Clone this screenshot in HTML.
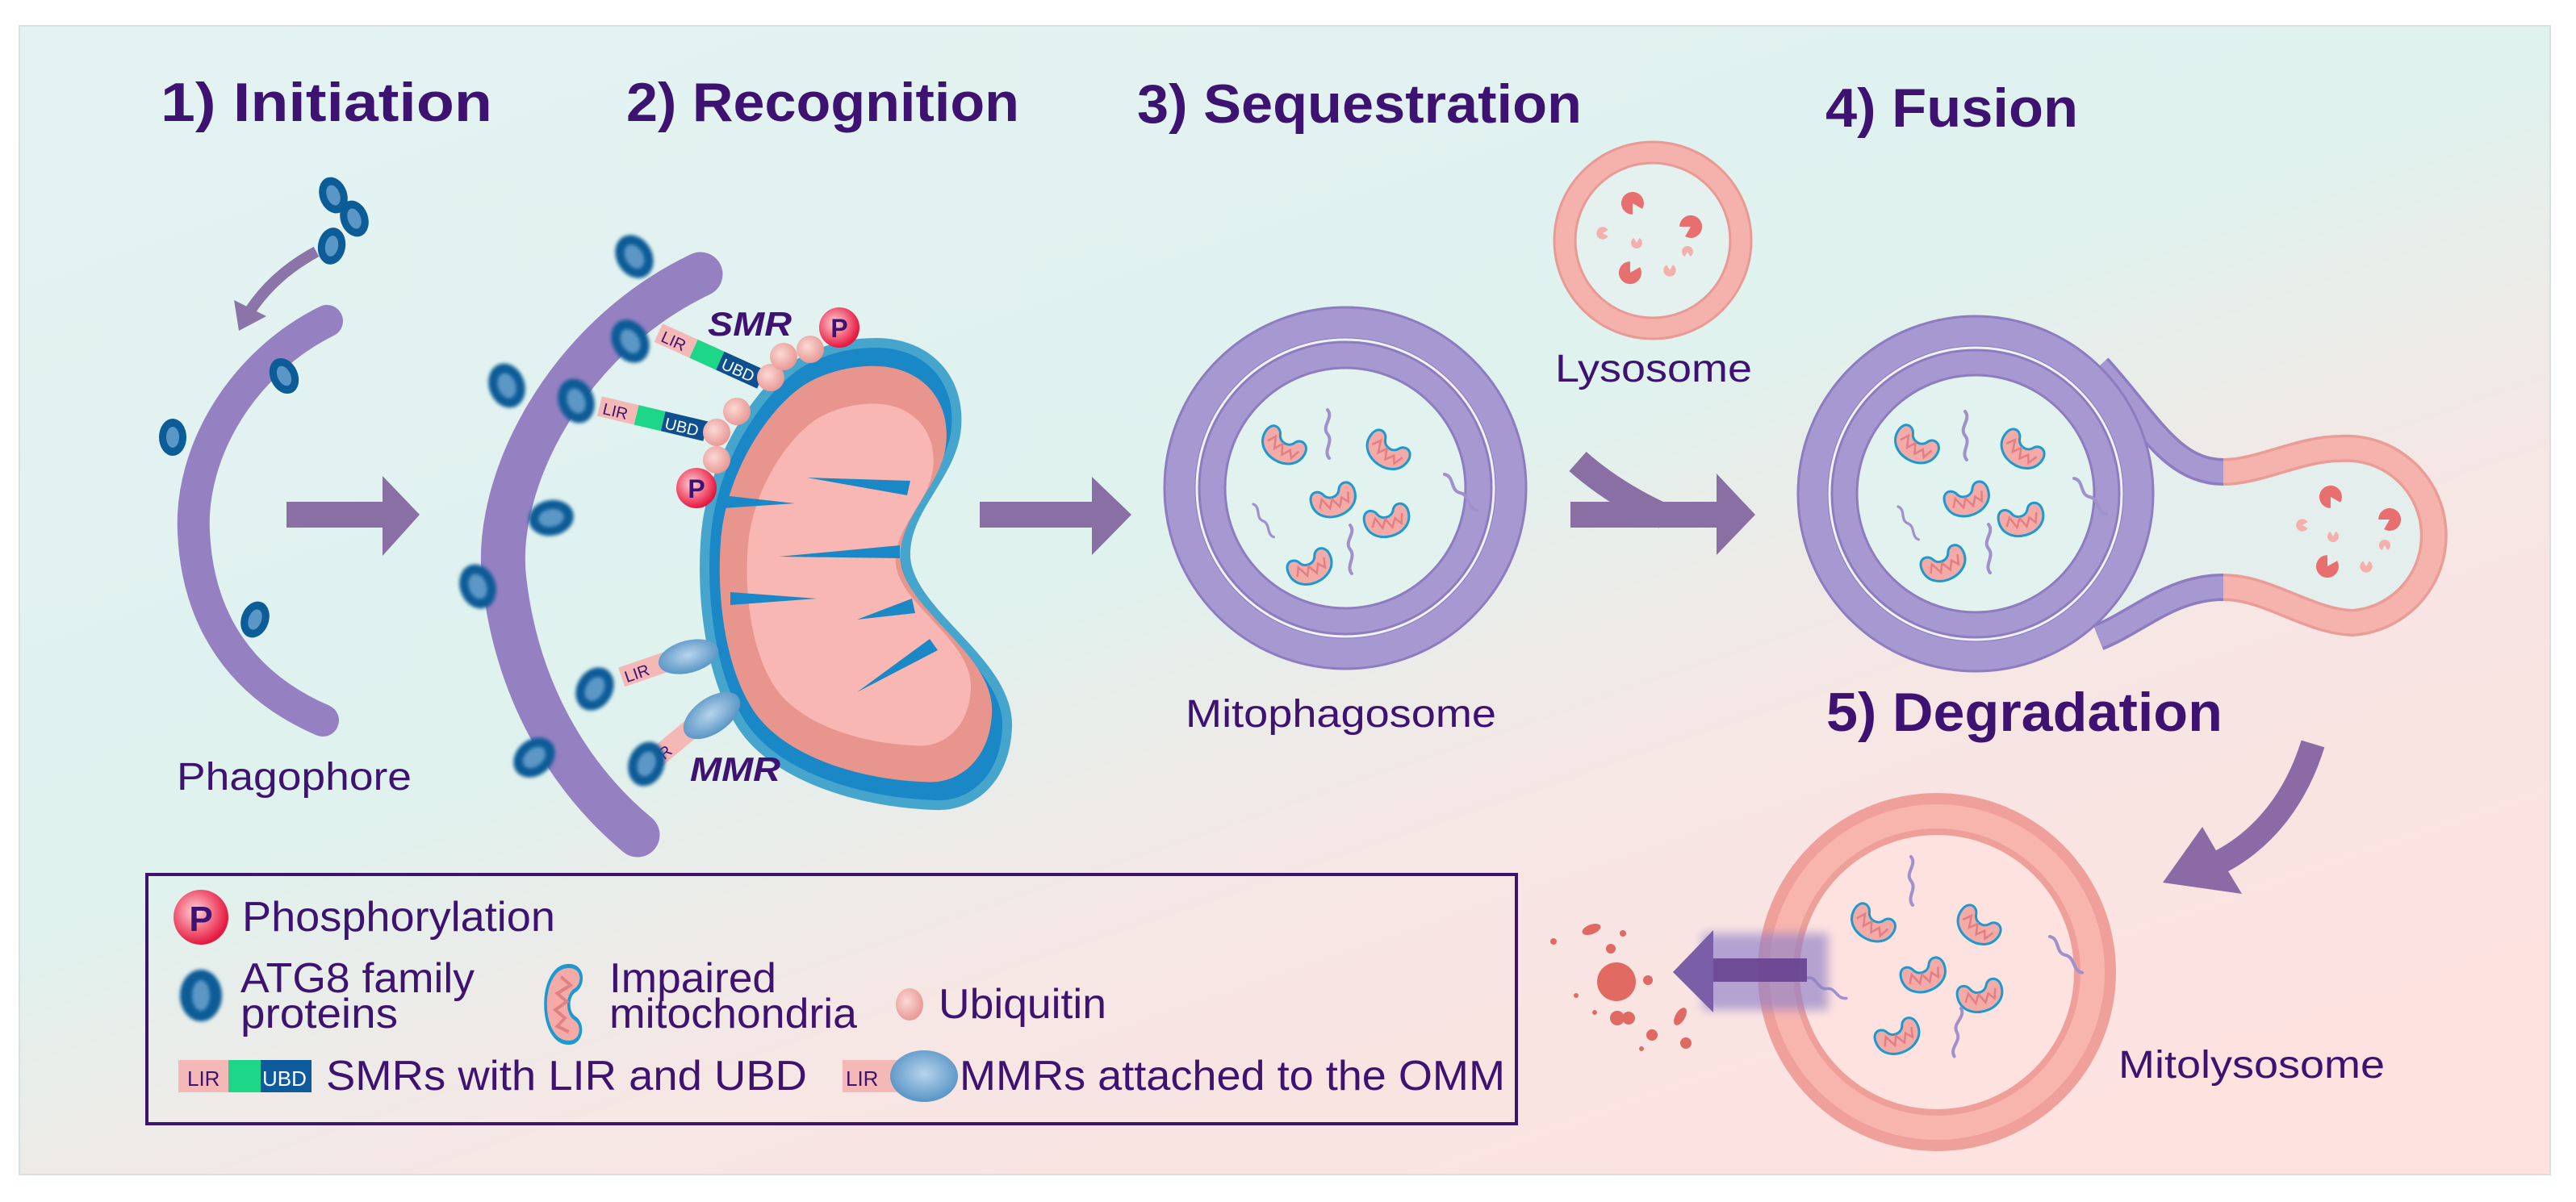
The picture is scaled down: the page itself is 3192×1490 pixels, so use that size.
<!DOCTYPE html>
<html><head><meta charset="utf-8"><style>
html,body{margin:0;padding:0;background:#fff;}
svg{display:block;}
text{font-family:"Liberation Sans",Arial,sans-serif;fill:#3d1270;}
</style></head><body>
<svg width="3192" height="1490" viewBox="0 0 3192 1490" xmlns="http://www.w3.org/2000/svg">
<defs>
<linearGradient id="bg" x1="0" y1="0" x2="0.75" y2="1">
<stop offset="0" stop-color="#e4f3f2"/>
<stop offset="0.5" stop-color="#dff2ee"/>
<stop offset="0.72" stop-color="#f6e6e4"/>
<stop offset="1" stop-color="#fde2e0"/>
</linearGradient>
<radialGradient id="pg" cx="0.4" cy="0.4" r="0.6">
<stop offset="0" stop-color="#fbd6dc"/><stop offset="0.6" stop-color="#f2607a"/><stop offset="1" stop-color="#e5183f"/>
</radialGradient>
<radialGradient id="ug" cx="0.4" cy="0.4" r="0.6">
<stop offset="0" stop-color="#fbd9d5"/><stop offset="1" stop-color="#e99a96"/>
</radialGradient>
<radialGradient id="eg" cx="0.5" cy="0.45" r="0.6">
<stop offset="0" stop-color="#b8d4ec"/><stop offset="1" stop-color="#4f8fc2"/>
</radialGradient>
<filter id="bl" x="-20%" y="-20%" width="140%" height="140%"><feGaussianBlur stdDeviation="2"/></filter>
<filter id="bl2" x="-20%" y="-50%" width="140%" height="200%"><feGaussianBlur stdDeviation="6"/></filter>
<g id="atg"><ellipse rx="22" ry="28" fill="#0b5c97" filter="url(#bl)"/><ellipse rx="11" ry="16" fill="#5b97c6" filter="url(#bl)"/></g>
<g id="atgs"><ellipse rx="17" ry="23" fill="#0b5c97"/><ellipse rx="8" ry="13" fill="#5b97c6"/></g>
<g id="mm">
<path d="M-28,-4 C-28,-20 -14,-20 -10,-10 C-6,-2 6,-2 10,-10 C14,-20 28,-18 28,-4 C28,12 14,20 0,20 C-14,20 -28,12 -28,-4 Z" fill="#f4aaa6" stroke="#1a9ad0" stroke-width="3"/>
<path d="M-20,4 L-14,-6 L-8,8 L-2,-2 L4,10 L10,0 L16,8 L20,-4" fill="none" stroke="#e07f84" stroke-width="2.5"/>
</g>
<path id="pac" d="M0,0 L12,-7 A14,14 0 1,0 12,7 Z"/>
<path id="sq" d="M0,0 C8,10 -8,20 0,30 C8,40 -6,50 2,60" fill="none" stroke="#a090cc" stroke-width="4" stroke-linecap="round"/>
</defs>

<rect x="24" y="32" width="3136" height="1424" fill="url(#bg)"/>
<rect x="24" y="32" width="3136" height="1424" fill="none" stroke="#d6e2e2" stroke-width="2"/>

<g font-weight="bold" font-size="68">
<text x="199" y="150" textLength="411" lengthAdjust="spacingAndGlyphs">1) Initiation</text>
<text x="776" y="150" textLength="487" lengthAdjust="spacingAndGlyphs">2) Recognition</text>
<text x="1409" y="152" textLength="551" lengthAdjust="spacingAndGlyphs">3) Sequestration</text>
<text x="2262" y="157" textLength="313" lengthAdjust="spacingAndGlyphs">4) Fusion</text>
<text x="2263" y="906" textLength="491" lengthAdjust="spacingAndGlyphs">5) Degradation</text>
</g>

<path d="M405,398 C300,450 235,560 240,660 C245,770 300,850 400,893" fill="none" stroke="#9580c2" stroke-width="40" stroke-linecap="round"/>
<path d="M392,312 Q340,340 310,385" fill="none" stroke="#8a74a8" stroke-width="14"/>
<polygon points="290,372 330,392 296,410" fill="#8a74a8"/>
<use href="#atgs" transform="translate(413,242) rotate(-20)"/>
<use href="#atgs" transform="translate(439,271) rotate(-20)"/>
<use href="#atgs" transform="translate(411,305) rotate(10)"/>
<use href="#atgs" transform="translate(352,466) rotate(-25)"/>
<use href="#atgs" transform="translate(214,542) rotate(0)"/>
<use href="#atgs" transform="translate(316,768) rotate(20)"/>
<text x="219" y="979" font-size="48" textLength="291" lengthAdjust="spacingAndGlyphs">Phagophore</text>

<rect x="355" y="622" width="120" height="32" fill="#8a6fa5"/>
<polygon points="474,590 520,638 474,689" fill="#8a6fa5"/>

<path d="M868,340 C700,420 610,600 625,720 C640,850 700,960 790,1035" fill="none" stroke="#9580c2" stroke-width="55" stroke-linecap="round"/>

<g>
<path d="M1085,425 C1150,425 1190,470 1185,530 C1180,590 1120,630 1122,690 C1125,760 1250,820 1248,900 C1246,970 1200,1000 1160,998 C1060,995 960,960 920,900 C880,840 868,740 875,660 C885,560 950,470 1000,445 C1030,430 1060,425 1085,425 Z" fill="#1a88c6" stroke="#45a5cc" stroke-width="12"/>
<path d="M1085,425 C1150,425 1190,470 1185,530 C1180,590 1120,630 1122,690 C1125,760 1250,820 1248,900 C1246,970 1200,1000 1160,998 C1060,995 960,960 920,900 C880,840 868,740 875,660 C885,560 950,470 1000,445 C1030,430 1060,425 1085,425 Z" fill="#e8958e" transform="translate(1060,712) scale(0.9) translate(-1060,-712)"/>
<path d="M1085,425 C1150,425 1190,470 1185,530 C1180,590 1120,630 1122,690 C1125,760 1250,820 1248,900 C1246,970 1200,1000 1160,998 C1060,995 960,960 920,900 C880,840 868,740 875,660 C885,560 950,470 1000,445 C1030,430 1060,425 1085,425 Z" fill="#f8b7b2" transform="translate(1075,715) scale(0.74) translate(-1075,-715)"/>
<g fill="#1a88c6">
<polygon points="1128,596 1124,614 1000,592"/>
<polygon points="895,614 895,630 985,624"/>
<polygon points="1115,676 1115,692 965,690"/>
<polygon points="905,734 905,750 1012,742"/>
<polygon points="1130,742 1134,760 1062,768"/>
<polygon points="1152,792 1162,806 1062,858"/>
</g>
</g>

<g transform="translate(816,412) rotate(24.4)">
<rect x="0" y="-12" width="48" height="25" fill="#f4b9b6"/><rect x="48" y="-12" width="36" height="25" fill="#1ed688"/><rect x="84" y="-12" width="56" height="25" fill="#0d4f8f"/>
<text x="6" y="9" font-size="20" style="fill:#3d1270">LIR</text><text x="88" y="9" font-size="20" style="fill:#fff">UBD</text>
</g>
<g transform="translate(743,503) rotate(13.3)">
<rect x="0" y="-12" width="47" height="25" fill="#f4b9b6"/><rect x="47" y="-12" width="34" height="25" fill="#1ed688"/><rect x="81" y="-12" width="54" height="25" fill="#0d4f8f"/>
<text x="5" y="9" font-size="20" style="fill:#3d1270">LIR</text><text x="84" y="9" font-size="20" style="fill:#fff">UBD</text>
</g>
<g fill="url(#ug)">
<circle cx="955" cy="468" r="17"/><circle cx="971" cy="442" r="17"/><circle cx="1004" cy="433" r="17"/>
<circle cx="913" cy="510" r="17"/><circle cx="888" cy="536" r="17"/><circle cx="888" cy="570" r="17"/>
</g>
<circle cx="1040" cy="406" r="25" fill="url(#pg)"/><text x="1040" y="418" font-size="32" font-weight="bold" text-anchor="middle">P</text>
<circle cx="863" cy="605" r="25" fill="url(#pg)"/><text x="863" y="617" font-size="32" font-weight="bold" text-anchor="middle">P</text>
<text x="877" y="416" font-size="42" font-weight="bold" font-style="italic" textLength="104" lengthAdjust="spacingAndGlyphs">SMR</text>

<g transform="translate(770,839) rotate(-19)"><rect x="0" y="-12" width="75" height="25" fill="#f4b9b6"/><text x="4" y="9" font-size="20">LIR</text></g>
<ellipse cx="853" cy="814" rx="38" ry="20" transform="rotate(-15 853 814)" fill="url(#eg)"/>
<g transform="translate(800,950) rotate(-40)"><rect x="0" y="-12" width="80" height="25" fill="#f4b9b6"/><text x="6" y="9" font-size="20">LIR</text></g>
<ellipse cx="882" cy="887" rx="40" ry="22" transform="rotate(-35 882 887)" fill="url(#eg)"/>
<text x="855" y="968" font-size="42" font-weight="bold" font-style="italic" textLength="112" lengthAdjust="spacingAndGlyphs">MMR</text>

<g>
<use href="#atg" transform="translate(786,318) rotate(-30)"/>
<use href="#atg" transform="translate(781,423) rotate(-30)"/>
<use href="#atg" transform="translate(628,478) rotate(-20)"/>
<use href="#atg" transform="translate(714,497) rotate(-20)"/>
<use href="#atg" transform="translate(683,642) rotate(80)"/>
<use href="#atg" transform="translate(592,727) rotate(-20)"/>
<use href="#atg" transform="translate(737,854) rotate(30)"/>
<use href="#atg" transform="translate(662,939) rotate(50)"/>
<use href="#atg" transform="translate(801,947) rotate(20)"/>
</g>

<rect x="1214" y="622" width="140" height="32" fill="#8a6fa5"/>
<polygon points="1353,591 1402,638 1353,688" fill="#8a6fa5"/>

<g stroke="#8d7cbf" stroke-width="3">
<circle cx="1667" cy="605" r="224" fill="#a698d0"/>
<circle cx="1667" cy="605" r="186" fill="#eef3f6" stroke-width="1"/>
<circle cx="1667" cy="605" r="181" fill="#a698d0"/>
<circle cx="1667" cy="605" r="149" fill="#e1f2ef"/>
</g>
<use href="#mm" transform="translate(1590,553) rotate(30)"/>
<use href="#mm" transform="translate(1719,559) rotate(35)"/>
<use href="#mm" transform="translate(1653,620) rotate(-20)"/>
<use href="#mm" transform="translate(1719,645) rotate(-15)"/>
<use href="#mm" transform="translate(1624,703) rotate(-25)"/>
<use href="#sq" transform="translate(1645,508)"/>
<use href="#sq" transform="translate(1790,588) rotate(-40)"/>
<use href="#sq" transform="translate(1553,625) rotate(-30) scale(0.8)"/>
<use href="#sq" transform="translate(1673,651)"/>
<text x="1469" y="901" font-size="48" textLength="385" lengthAdjust="spacingAndGlyphs">Mitophagosome</text>

<circle cx="2048" cy="298" r="122" fill="#f5b1ab" stroke="#e89a94" stroke-width="3"/>
<circle cx="2048" cy="298" r="96" fill="#e4f1ee" stroke="#e89a94" stroke-width="3"/>
<g fill="#e86f6f">
<use href="#pac" transform="translate(2023,252) rotate(60)"/>
<use href="#pac" transform="translate(2095,281) rotate(150)"/>
<use href="#pac" transform="translate(2020,338) rotate(-60)"/>
</g>
<g fill="#f3b0ac">
<use href="#pac" transform="translate(1986,289) scale(0.55)"/>
<use href="#pac" transform="translate(2028,301) scale(0.5) rotate(-90)"/>
<use href="#pac" transform="translate(2091,312) scale(0.5) rotate(90)"/>
<use href="#pac" transform="translate(2069,335) scale(0.55) rotate(-90)"/>
</g>
<text x="1927" y="473" font-size="48" textLength="244" lengthAdjust="spacingAndGlyphs">Lysosome</text>

<path d="M1955,572 Q2000,612 2062,640" fill="none" stroke="#8a6fa5" stroke-width="32"/>
<rect x="1946" y="622" width="182" height="32" fill="#8a6fa5"/>
<polygon points="2127,587 2175,638 2127,688" fill="#8a6fa5"/>

<path d="M2600,455 C2660,520 2690,585 2755,585 C2800,585 2850,556 2900,556 A108,108 0 0 1 2915,772 C2860,770 2810,728 2755,728 C2690,728 2650,770 2600,790 Z" fill="#e4efed"/>
<g fill="none">
<path d="M2600,455 C2660,520 2690,585 2755,585" stroke="#8d7cbf" stroke-width="34"/>
<path d="M2600,455 C2660,520 2690,585 2755,585" stroke="#a698d0" stroke-width="27"/>
<path d="M2755,728 C2690,728 2650,770 2600,790" stroke="#8d7cbf" stroke-width="34"/>
<path d="M2755,728 C2690,728 2650,770 2600,790" stroke="#a698d0" stroke-width="27"/>
<path d="M2755,585 C2800,585 2850,556 2900,556 A108,108 0 0 1 2915,772 C2860,770 2810,728 2755,728" stroke="#ea9d96" stroke-width="34"/>
<path d="M2755,585 C2800,585 2850,556 2900,556 A108,108 0 0 1 2915,772 C2860,770 2810,728 2755,728" stroke="#f6b3ad" stroke-width="27"/>
</g>
<g stroke="#8d7cbf" stroke-width="3">
<circle cx="2448" cy="612" r="220" fill="#a698d0"/>
<circle cx="2448" cy="612" r="183" fill="#eef3f6" stroke-width="1"/>
<circle cx="2448" cy="612" r="178" fill="#a698d0"/>
<circle cx="2448" cy="612" r="147" fill="#e1f2ef"/>
</g>
<use href="#mm" transform="translate(2374,552) rotate(30)"/>
<use href="#mm" transform="translate(2505,558) rotate(35)"/>
<use href="#mm" transform="translate(2438,619) rotate(-20)"/>
<use href="#mm" transform="translate(2505,644) rotate(-15)"/>
<use href="#mm" transform="translate(2409,699) rotate(-25)"/>
<use href="#sq" transform="translate(2435,510)"/>
<use href="#sq" transform="translate(2570,593) rotate(-40)"/>
<use href="#sq" transform="translate(2352,628) rotate(-30) scale(0.8)"/>
<use href="#sq" transform="translate(2464,650)"/>
<g fill="#e86f6f">
<use href="#pac" transform="translate(2888,616) rotate(60)"/>
<use href="#pac" transform="translate(2961,644) rotate(150)"/>
<use href="#pac" transform="translate(2884,702) rotate(-60)"/>
</g>
<g fill="#f3b0ac">
<use href="#pac" transform="translate(2853,651) scale(0.55)"/>
<use href="#pac" transform="translate(2891,665) scale(0.5) rotate(-90)"/>
<use href="#pac" transform="translate(2955,676) scale(0.5) rotate(90)"/>
<use href="#pac" transform="translate(2932,702) scale(0.55) rotate(-90)"/>
</g>

<path d="M2866,922 C2845,990 2805,1040 2752,1068" fill="none" stroke="#8b6aa5" stroke-width="30"/>
<polygon points="2729,1025 2680,1094 2778,1108 2758,1075" fill="#8b6aa5"/>

<circle cx="2400" cy="1205" r="222" fill="#f0a09a"/>
<circle cx="2400" cy="1205" r="208" fill="#f8b5ae"/>
<circle cx="2400" cy="1205" r="178" fill="#ee9f99"/>
<circle cx="2400" cy="1205" r="170" fill="#fde2df"/>
<use href="#mm" transform="translate(2320,1145) rotate(30)"/>
<use href="#mm" transform="translate(2451,1148) rotate(35)"/>
<use href="#mm" transform="translate(2384,1209) rotate(-20)"/>
<use href="#mm" transform="translate(2454,1234) rotate(-15)"/>
<use href="#mm" transform="translate(2352,1285) rotate(-25)"/>
<use href="#sq" transform="translate(2368,1062)"/>
<use href="#sq" transform="translate(2540,1161) rotate(-40)"/>
<use href="#sq" transform="translate(2240,1212) rotate(-60) scale(0.9)"/>
<use href="#sq" transform="translate(2430,1250) rotate(10)"/>
<text x="2625" y="1336" font-size="48" textLength="330" lengthAdjust="spacingAndGlyphs">Mitolysosome</text>

<rect x="2110" y="1157" width="155" height="95" fill="#8f80c8" opacity="0.65" filter="url(#bl2)"/>
<polygon points="2123,1153 2073,1205 2123,1255" fill="#7b5ea8"/>
<rect x="2123" y="1188" width="116" height="29" fill="#66438f" opacity="0.9"/>

<g fill="#e06a62">
<circle cx="2003" cy="1217" r="24"/>
<circle cx="1925" cy="1167" r="4"/><ellipse cx="1972" cy="1152" rx="12" ry="6" transform="rotate(-20 1972 1152)"/>
<circle cx="1996" cy="1176" r="6"/><circle cx="2011" cy="1157" r="4"/><circle cx="2042" cy="1215" r="6"/>
<circle cx="1953" cy="1234" r="3"/><circle cx="2004" cy="1262" r="9"/><circle cx="2018" cy="1262" r="8"/>
<circle cx="2047" cy="1283" r="7"/><ellipse cx="2082" cy="1260" rx="6" ry="12" transform="rotate(30 2082 1260)"/>
<circle cx="2089" cy="1293" r="7"/><circle cx="1976" cy="1255" r="3"/><circle cx="2034" cy="1300" r="3"/>
</g>

<rect x="182" y="1084" width="1697" height="309" fill="none" stroke="#3b1470" stroke-width="4"/>
<circle cx="249" cy="1137" r="34" fill="url(#pg)"/><text x="249" y="1154" font-size="44" font-weight="bold" text-anchor="middle">P</text>
<text x="300" y="1154" font-size="52" textLength="388" lengthAdjust="spacingAndGlyphs">Phosphorylation</text>
<g transform="translate(249,1234)"><ellipse rx="26" ry="32" fill="#0b5c97" filter="url(#bl)"/><ellipse rx="11" ry="19" fill="#5b97c6" filter="url(#bl)"/></g>
<text x="298" y="1230" font-size="52" textLength="290" lengthAdjust="spacingAndGlyphs">ATG8 family</text>
<text x="298" y="1274" font-size="52" textLength="195" lengthAdjust="spacingAndGlyphs">proteins</text>
<use href="#mm" transform="translate(700,1245) rotate(90) scale(1.7,1.2)"/>
<text x="755" y="1230" font-size="52" textLength="207" lengthAdjust="spacingAndGlyphs">Impaired</text>
<text x="755" y="1274" font-size="52" textLength="307" lengthAdjust="spacingAndGlyphs">mitochondria</text>
<ellipse cx="1127" cy="1245" rx="17" ry="20" fill="url(#ug)"/>
<text x="1163" y="1262" font-size="52" textLength="208" lengthAdjust="spacingAndGlyphs">Ubiquitin</text>
<rect x="221" y="1314" width="62" height="40" fill="#f4b9b6"/><rect x="283" y="1314" width="40" height="40" fill="#1ed688"/><rect x="323" y="1314" width="63" height="40" fill="#0d5a9c"/>
<text x="232" y="1346" font-size="26">LIR</text><text x="325" y="1346" font-size="26" style="fill:#fff">UBD</text>
<text x="404" y="1351" font-size="52" textLength="596" lengthAdjust="spacingAndGlyphs">SMRs with LIR and UBD</text>
<rect x="1044" y="1314" width="70" height="40" fill="#f4b9b6"/><text x="1048" y="1346" font-size="26">LIR</text>
<ellipse cx="1145" cy="1334" rx="42" ry="32" fill="url(#eg)"/>
<text x="1189" y="1351" font-size="52" textLength="676" lengthAdjust="spacingAndGlyphs">MMRs attached to the OMM</text>
</svg>
</body></html>
